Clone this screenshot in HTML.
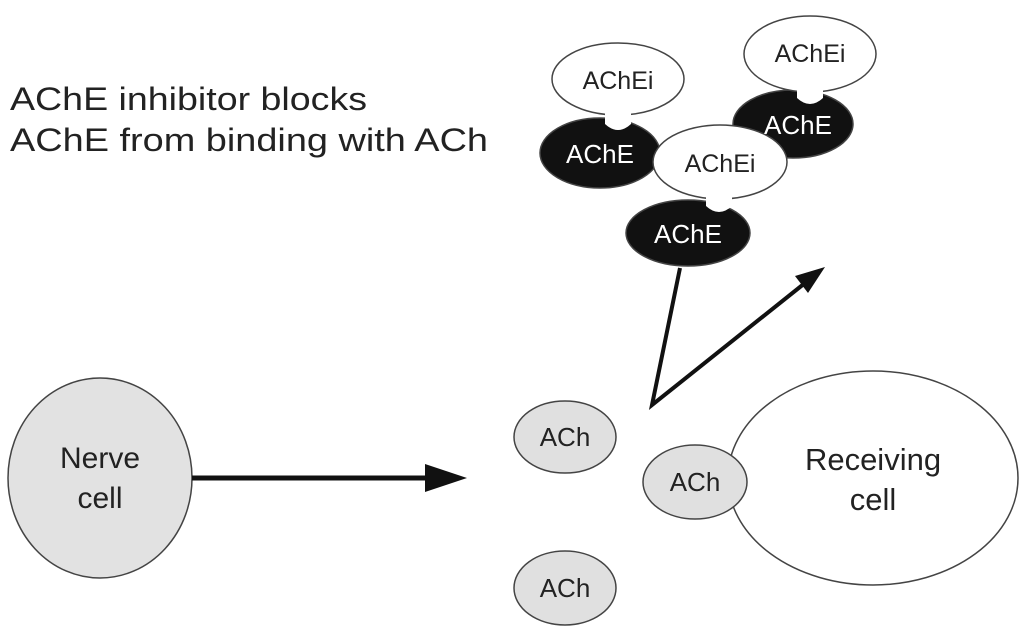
<!DOCTYPE html>
<html><head><style>body{margin:0;background:#fff}svg{display:block}</style></head><body>
<svg width="1024" height="632" viewBox="0 0 1024 632" xmlns="http://www.w3.org/2000/svg" font-family="Liberation Sans, sans-serif">
<rect width="1024" height="632" fill="#fff"/>
<text x="10" y="110" font-size="32" fill="#222" textLength="357" lengthAdjust="spacingAndGlyphs">AChE inhibitor blocks</text>
<text x="10" y="151" font-size="32" fill="#222" textLength="478" lengthAdjust="spacingAndGlyphs">AChE from binding with ACh</text>
<g stroke="#444" stroke-width="1.5">
<ellipse cx="600" cy="153" rx="60" ry="35" fill="#111"/>
<ellipse cx="793" cy="124" rx="60" ry="34" fill="#111"/>
<ellipse cx="618" cy="79" rx="66" ry="36" fill="#fff"/>
<path d="M605,112 v12 q13,12 26,0 v-12z" fill="#fff" stroke="none"/>
<ellipse cx="810" cy="54" rx="66" ry="38" fill="#fff"/>
<path d="M797,88 v10 q13,12 26,0 v-10z" fill="#fff" stroke="none"/>
<ellipse cx="688" cy="233" rx="62" ry="33" fill="#111"/>
<ellipse cx="720" cy="162" rx="67" ry="37" fill="#fff"/>
<path d="M706,196 v10 q13,12 26,0 v-10z" fill="#fff" stroke="none"/>
</g>
<g font-size="26" text-anchor="middle">
<text x="600" y="163" fill="#fff">AChE</text>
<text x="798" y="134" fill="#fff">AChE</text>
<text x="688" y="243" fill="#fff">AChE</text>
<text x="618" y="89" fill="#222" font-size="25">AChEi</text>
<text x="810" y="62" fill="#222" font-size="25">AChEi</text>
<text x="720" y="172" fill="#222" font-size="25">AChEi</text>
</g>
<polyline points="680,268 652,405 805,283" fill="none" stroke="#111" stroke-width="4"/>
<polygon points="825,267 795,276 808,293" fill="#111"/>
<ellipse cx="100" cy="478" rx="92" ry="100" fill="#e2e2e2" stroke="#444" stroke-width="1.5"/>
<text x="100" y="468" font-size="30" text-anchor="middle" fill="#222">Nerve</text>
<text x="100" y="508" font-size="30" text-anchor="middle" fill="#222">cell</text>
<line x1="192" y1="478" x2="430" y2="478" stroke="#111" stroke-width="5"/>
<polygon points="467,478 425,464 425,492" fill="#111"/>
<ellipse cx="873" cy="478" rx="145" ry="107" fill="#fff" stroke="#444" stroke-width="1.5"/>
<text x="873" y="470" font-size="31" text-anchor="middle" fill="#222">Receiving</text>
<text x="873" y="510" font-size="31" text-anchor="middle" fill="#222">cell</text>
<g fill="#e0e0e0" stroke="#444" stroke-width="1.5">
<ellipse cx="565" cy="437" rx="51" ry="36"/>
<ellipse cx="695" cy="482" rx="52" ry="37"/>
<ellipse cx="565" cy="588" rx="51" ry="37"/>
</g>
<g font-size="26" text-anchor="middle" fill="#222">
<text x="565" y="446">ACh</text>
<text x="695" y="491">ACh</text>
<text x="565" y="597">ACh</text>
</g>
</svg>
</body></html>
